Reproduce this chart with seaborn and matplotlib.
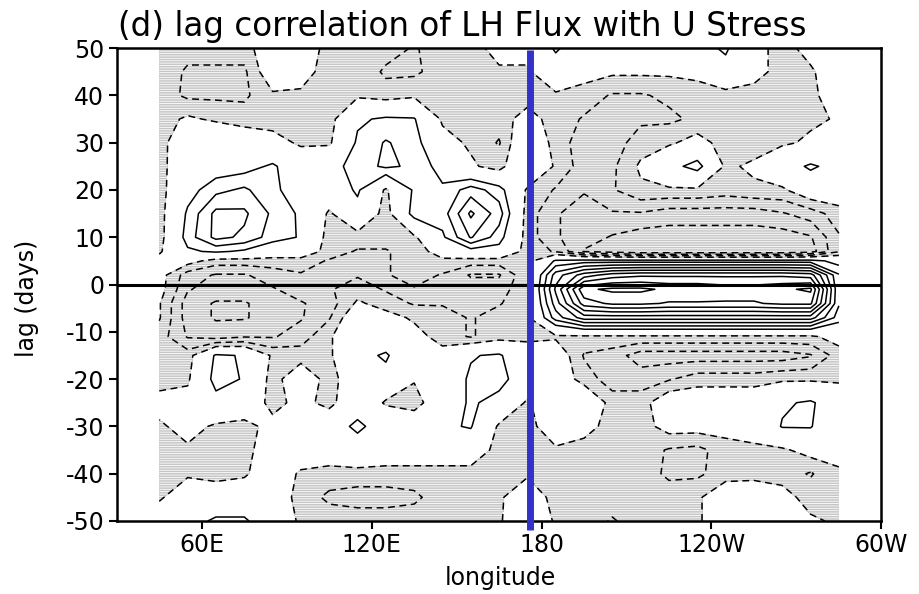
import numpy as np
import pandas as pd
import seaborn as sns
import matplotlib.pyplot as plt

# longitude columns (deg E) and lag rows (days) of the correlation table
lons = [45, 55, 65, 75, 85, 95, 105, 115, 125, 135, 145, 155, 165, 175,
        185, 195, 205, 215, 225, 235, 245, 255, 265, 275, 285]
lags = [50, 45, 40, 35, 30, 25, 20, 15, 10, 7, 5, 2, -1, -4, -7, -11,
        -15, -20, -25, -30, -35, -40, -45, -50]

# correlation x 100, one row per lag
corr_pct = [
    [-15, -15, -15, -15, 0, 0, -15, -12, -15, -21, -15, -15, -5, -5, 12, 0, 0, 0, 0, 5, 12, -5, -15, -5, 0],
    [-12, -22, -22, -22, 0, -5, -15, -12, -22, -22, -15, -15, -12, -12, 2, -5, -8, -8, -8, -5, 5, -5, -15, -12, 0],
    [-15, -22, -22, -22, -12, -12, -15, -12, -15, -12, -15, -15, -15, -15, -12, -15, -21, -21, -18, -18, -15, -15, -18, -12, -5],
    [-15, -8, -12, -15, -15, -15, -15, 8, 12, 11, -12, -15, -15, -5, -15, -21, -22, -22, -22, -18, -15, -15, -15, -12, -9],
    [-15, 2, 5, 0, -5, -12, -12, 12, 21, 15, -5, -12, -21, 5, -15, -25, -25, -15, -12, -5, -15, -15, -12, -8, -5],
    [-15, 3, 3, 5, 12, 0, 5, 15, 22, 18, 5, -8, -15, 8, -12, -25, -22, -8, 5, 15, -12, -8, 3, 12, 5],
    [-15, 5, 17, 22, 12, 5, 0, 12, -12, 12, 12, 25, 15, -12, -21, -29, -21, -12, -12, -12, -15, -12, -12, 0, 0],
    [-15, 12, 33, 32, 18, 8, -12, 5, -15, 15, 15, 42, 25, -15, -29, -35, -31, -31, -35, -35, -35, -35, -31, -25, -15],
    [-15, 15, 33, 28, 15, 9, -15, -15, -15, -12, 8, 31, 15, -15, -29, -35, -41, -45, -45, -45, -45, -45, -45, -41, -21],
    [-12, 8, 12, 8, 0, 0, -15, -21, -21, -15, -5, 5, 5, -15, -21, -41, -45, -49, -49, -49, -49, -49, -49, -45, -21],
    [-5, -5, -15, -15, -15, -15, -21, -21, -21, -15, -12, -15, -15, -15, 12, 15, 15, 15, 15, 15, 15, 15, 15, 15, 5],
    [-5, -25, -31, -31, -25, -21, -21, -21, -21, -15, -21, -31, -31, -12, 35, 55, 65, 68, 68, 68, 68, 68, 68, 65, 21],
    [-5, -29, -35, -35, -31, -25, -21, -15, -21, -21, -21, -25, -25, -12, 42, 88, 92, 92, 88, 88, 85, 85, 88, 92, 21],
    [-9, -35, -41, -41, -35, -31, -25, -8, -15, -21, -21, -25, -21, -12, 35, 75, 82, 82, 79, 79, 79, 79, 82, 82, 21],
    [-9, -35, -41, -41, -35, -31, -21, 2, -5, -12, -15, -21, -15, -12, 25, 45, 45, 45, 45, 45, 45, 45, 45, 45, 15],
    [-15, -31, -35, -31, -31, -25, -12, 5, 0, -5, -15, -21, -15, -12, -12, -12, -12, -12, -12, -12, -12, -12, -12, -12, -5],
    [-15, -15, 12, 9, -12, -15, -12, 5, 12, -5, -5, 9, 12, -5, 0, -21, -25, -35, -35, -35, -35, -35, -35, -31, -15],
    [-15, -12, 15, 9, -15, 0, -15, 0, 5, -9, 0, 12, 15, 0, 0, -15, -25, -25, -21, -15, -15, -15, -12, -12, -12],
    [-5, -5, 5, 3, -15, -5, -15, 5, -12, -15, 0, 12, 5, -12, 3, 5, -15, -15, 0, 0, 0, 0, 8, 12, 0],
    [-12, -5, -12, -15, -5, 5, 5, 12, 5, 0, 8, 11, -12, -15, 0, -5, -15, -15, -5, -5, -5, -5, 11, 11, -5],
    [-15, -12, -15, -15, 0, 0, 0, 5, 0, 0, 0, 0, -15, -15, -12, -15, -15, -15, -21, -23, -15, -12, -12, -5, -5],
    [-15, -12, -15, -12, 0, -12, -15, -15, -15, -15, -15, -15, -15, -12, -15, -15, -18, -15, -22, -22, -15, -12, -15, -21, -12],
    [-12, 0, 0, 0, 0, -15, -22, -24, -24, -22, -15, -15, -12, 0, -15, -15, -15, -15, -15, -12, 0, -5, -5, -15, -12],
    [0, 5, 12, 12, 0, -12, -15, -15, -15, -15, -12, -12, -12, 5, -12, -15, -21, -15, -15, -12, 0, 5, 0, -8, -12],
]

xtick_pos = [60, 120, 180, 240, 300]
xtick_labels = ["60E", "120E", "180", "120W", "60W"]
ytick_pos = list(range(-50, 51, 10))
ref_lon = 176  # blue reference meridian

sns.set_theme(style="ticks")
plt.rcParams["font.family"] = ["DejaVu Sans"]
plt.rcParams["text.color"] = "black"
plt.rcParams["axes.labelcolor"] = "black"
plt.rcParams["axes.unicode_minus"] = False
plt.rcParams["hatch.color"] = "#dadada"
plt.rcParams["hatch.linewidth"] = 0.6

field = pd.DataFrame(corr_pct, index=lags, columns=lons) / 100.0
lon_grid, lag_grid = np.meshgrid(field.columns.values, field.index.values)
values = field.values

fig = plt.figure(figsize=(9.2, 5.94), dpi=100)
ax = fig.add_axes([0.127, 0.123, 0.831, 0.796])

# shade correlations below -0.1 (striped grey), contour every 0.1 (negative dashed)
ax.contourf(lon_grid, lag_grid, values, levels=[-1.0, -0.1], colors=["#c6c6c6"],
            hatches=["-------"])
neg_levels = np.round(np.arange(-0.9, -0.05, 0.1), 2)
pos_levels = np.round(np.arange(0.1, 0.95, 0.1), 2)
ax.contour(lon_grid, lag_grid, values, levels=neg_levels, colors="black",
           linewidths=1.1, linestyles=[(0, (4.5, 3))])
ax.contour(lon_grid, lag_grid, values, levels=pos_levels, colors="black",
           linewidths=1.1, linestyles="solid")

ax.axhline(0, color="black", linewidth=2.2)
ax.plot([ref_lon, ref_lon], [-52, 49.6], color="#3232c8", linewidth=5,
        solid_capstyle="butt", clip_on=False, zorder=5)

ax.set_xlim(30, 300)
ax.set_ylim(-50, 50)
ax.set_xticks(xtick_pos)
ax.set_xticklabels(xtick_labels)
ax.set_yticks(ytick_pos)
ax.tick_params(direction="out", length=6, width=1.5, labelsize=17, color="black",
               labelcolor="black", pad=3)
for spine in ax.spines.values():
    spine.set_linewidth(1.8)
    spine.set_color("black")

fig.text(118 / 920, 1 - 36 / 594, "(d) lag correlation of LH Flux with U Stress",
         fontsize=23.5, ha="left", va="baseline")
fig.text(27 / 920, 1 - 298 / 594, "lag (days)", fontsize=17, rotation=90,
         ha="center", va="center")
fig.text(500 / 920, 1 - 578 / 594, "longitude", fontsize=17, ha="center", va="center")

fig.savefig("out.png", dpi=100)
